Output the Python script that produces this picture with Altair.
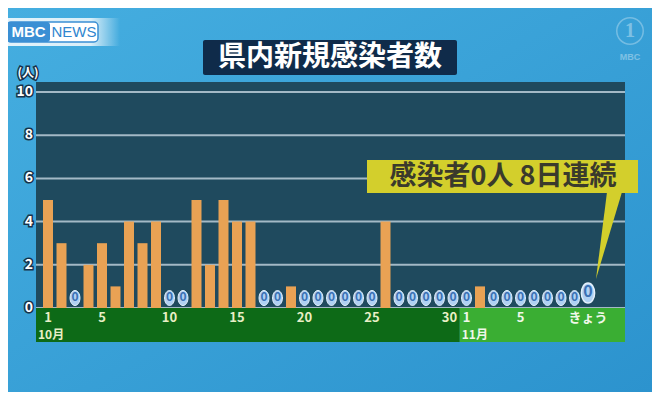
import altair as alt
import pandas as pd

# ---------------- data ----------------
oct_cases = [5, 3, 0, 2, 3, 1, 4, 3, 4, 0, 0, 5, 2, 5, 4, 4, 0, 0, 1,
             0, 0, 0, 0, 0, 0, 4, 0, 0, 0, 0, 0]
nov_cases = [0, 1, 0, 0, 0, 0, 0, 0, 0, 0]

tick_index = [1, 5, 10, 15, 20, 25, 30, 32, 36, 41]
tick_labels = ["1", "5", "10", "15", "20", "25", "30", "1", "5", "きょう"]
month_labels = ["10月", "11月"]
month_first_index = [1, 32]
month_last_index = [31, 41]
y_ticks = [0, 2, 4, 6, 8, 10]

title_text = "県内新規感染者数"
callout_text = "感染者0人 8日連続"
y_unit = "(人)"

FONT = "Noto Sans CJK JP"

cases = oct_cases + nov_cases
idx = list(range(1, len(cases) + 1))
df = pd.DataFrame({
    "idx": idx,
    "cases": cases,
    "month": ["10月"] * len(oct_cases) + ["11月"] * len(nov_cases),
})
df["today"] = df["idx"] == df["idx"].max()

# ---------------- scales ----------------
W, H = 589, 226
STEP = 13.5
x_dom = [1 - 12 / STEP, 1 + (W - 12) / STEP]
xs = alt.Scale(domain=x_dom, nice=False, zero=False, padding=0)
ys = alt.Scale(domain=[0, H / 21.6], nice=False, zero=True, padding=0)

one = pd.DataFrame({"a": [0]})

lo = [f - 0.5 for f in month_first_index]
lo[0] = x_dom[0]
hi = [l + 0.5 for l in month_last_index]
hi[-1] = x_dom[1]
df_m = pd.DataFrame({"month": month_labels, "lo": lo, "hi": hi})
df_t = pd.DataFrame({"idx": tick_index, "label": tick_labels})
df_y = pd.DataFrame({"t": y_ticks})

OCT_LAB = "#e8efc6"
NOV_LAB = "#f0f8ea"

# ---------------- background ----------------
bg = alt.Chart(one).mark_rect(
    fill=alt.LinearGradient(
        gradient="linear",
        stops=[alt.GradientStop(color="#45aee0", offset=0),
               alt.GradientStop(color="#2c93ce", offset=1)],
        x1=0, y1=0, x2=1, y2=1)
).encode(x=alt.value(-28), x2=alt.value(W + 27), y=alt.value(-74), y2=alt.value(H + 84))

plot_bg = alt.Chart(one).mark_rect(fill="#1f4a5e").encode(
    x=alt.value(0), x2=alt.value(W), y=alt.value(0), y2=alt.value(H))

grid = alt.Chart(df_y).mark_rule(color="#a3b9c6", strokeWidth=2).encode(
    y=alt.Y("t:Q", scale=ys, axis=None), x=alt.value(0), x2=alt.value(W))

bands = alt.Chart(df_m).mark_rect().encode(
    x=alt.X("lo:Q", scale=xs, axis=None), x2="hi:Q",
    y=alt.value(H), y2=alt.value(H + 34),
    color=alt.condition("datum.month == '10月'", alt.value("#0d6a17"), alt.value("#3aae33")))

bars = alt.Chart(df).transform_filter("datum.cases > 0").mark_bar(
    size=10, color="#e9a254").encode(
    x=alt.X("idx:Q", scale=xs, axis=None),
    y=alt.Y("cases:Q", scale=ys, axis=None))

ELL = "M0,-1 A0.66,1 0 1,1 0,1 A0.66,1 0 1,1 0,-1 Z"

zero_pts = alt.Chart(df).transform_filter("datum.cases == 0 && !datum.today").mark_point(
    shape=ELL, filled=True, size=225, fill="#b0d1f3", stroke="#e4f0fc",
    strokeWidth=1, opacity=1, yOffset=-10).encode(
    x=alt.X("idx:Q", scale=xs, axis=None), y=alt.Y("cases:Q", scale=ys, axis=None))
zero_txt = alt.Chart(df).transform_filter("datum.cases == 0 && !datum.today").mark_text(
    font=FONT, fontSize=12, fontWeight="bold", color="#3a70b4", baseline="middle",
    yOffset=-11).encode(
    x=alt.X("idx:Q", scale=xs, axis=None), y=alt.Y("cases:Q", scale=ys, axis=None),
    text=alt.Text("cases:Q"))

today_pts = alt.Chart(df).transform_filter("datum.today").mark_point(
    shape=ELL, filled=True, size=400, fill="#b0d1f3", stroke="#e4f0fc",
    strokeWidth=1.5, opacity=1, yOffset=-15).encode(
    x=alt.X("idx:Q", scale=xs, axis=None), y=alt.Y("cases:Q", scale=ys, axis=None))
today_txt = alt.Chart(df).transform_filter("datum.today").mark_text(
    font=FONT, fontSize=16, fontWeight="bold", color="#3a70b4", baseline="middle",
    yOffset=-16).encode(
    x=alt.X("idx:Q", scale=xs, axis=None), y=alt.Y("cases:Q", scale=ys, axis=None),
    text=alt.Text("cases:Q"))

lab_color = alt.condition("datum.idx <= 31", alt.value(OCT_LAB), alt.value(NOV_LAB))
xlab = alt.Chart(df_t).transform_filter("datum.label != '30'").mark_text(
    font=FONT, fontSize=13, fontWeight="bold", baseline="middle").encode(
    x=alt.X("idx:Q", scale=xs, axis=None), y=alt.value(H + 10),
    text="label:N", color=lab_color)
xlab30 = alt.Chart(df_t).transform_filter("datum.label == '30'").mark_text(
    font=FONT, fontSize=13, fontWeight="bold", baseline="middle", dx=10).encode(
    x=alt.X("idx:Q", scale=xs, axis=None), y=alt.value(H + 10),
    text="label:N", color=lab_color)

mlab = alt.Chart(df_m).mark_text(
    font=FONT, fontSize=12, fontWeight="bold", baseline="middle", align="left", dx=2).encode(
    x=alt.X("lo:Q", scale=xs, axis=None), y=alt.value(H + 27), text="month:N",
    color=alt.condition("datum.month == '10月'", alt.value(OCT_LAB), alt.value(NOV_LAB)))

ylab_o = alt.Chart(df_y).mark_text(
    font=FONT, fontSize=14, fontWeight="bold", align="right", baseline="middle",
    color="#17324a", stroke="#17324a", strokeWidth=3).encode(
    y=alt.Y("t:Q", scale=ys, axis=None), x=alt.value(-3), text="t:Q")
ylab = alt.Chart(df_y).mark_text(
    font=FONT, fontSize=14, fontWeight="bold", align="right", baseline="middle",
    color="white").encode(
    y=alt.Y("t:Q", scale=ys, axis=None), x=alt.value(-3), text="t:Q")

unit_o = alt.Chart(one).mark_text(
    text=y_unit, font=FONT, fontSize=12, fontWeight="bold", color="#17324a",
    stroke="#17324a", strokeWidth=3, baseline="middle").encode(x=alt.value(-8), y=alt.value(-9))
unit = alt.Chart(one).mark_text(
    text=y_unit, font=FONT, fontSize=12, fontWeight="bold", color="white",
    baseline="middle").encode(x=alt.value(-8), y=alt.value(-9))

# ---------------- title ----------------
title_box = alt.Chart(one).mark_rect(fill="#0f2b4a", cornerRadius=2).encode(
    x=alt.value(167), x2=alt.value(421), y=alt.value(-42), y2=alt.value(-7))
title = alt.Chart(one).mark_text(
    text=title_text, font=FONT, fontSize=28, fontWeight="bold", color="white",
    baseline="middle").encode(x=alt.value(294), y=alt.value(-24))

# ---------------- logos ----------------
logo_bg = alt.Chart(one).mark_rect(
    fill=alt.LinearGradient(
        gradient="linear",
        stops=[alt.GradientStop(color="rgba(255,255,255,0.85)", offset=0),
               alt.GradientStop(color="rgba(255,255,255,0.8)", offset=0.75),
               alt.GradientStop(color="rgba(255,255,255,0)", offset=1)],
        x1=0, y1=0, x2=1, y2=0)
).encode(x=alt.value(-33), x2=alt.value(84), y=alt.value(-64), y2=alt.value(-36))
logo_outline = alt.Chart(one).mark_rect(
    fill="white", stroke="#3a8fd4", strokeWidth=1.5, cornerRadius=4).encode(
    x=alt.value(-29), x2=alt.value(62), y=alt.value(-60), y2=alt.value(-40))
logo_blue = alt.Chart(one).mark_rect(fill="#3a8fd4", cornerRadius=3).encode(
    x=alt.value(-29), x2=alt.value(14), y=alt.value(-60), y2=alt.value(-40))
logo_mbc = alt.Chart(one).mark_text(
    text="MBC", font="Liberation Sans", fontSize=15, fontWeight="bold", color="white",
    baseline="middle").encode(x=alt.value(-7.5), y=alt.value(-50))
logo_news = alt.Chart(one).mark_text(
    text="NEWS", font="Liberation Sans", fontSize=15, color="#2f86cf",
    baseline="middle").encode(x=alt.value(38), y=alt.value(-50))

ch_circle = alt.Chart(one).mark_point(
    shape="circle", size=700, stroke="white", strokeWidth=1.5, opacity=0.3,
    filled=False).encode(x=alt.value(594), y=alt.value(-51))
ch_one = alt.Chart(one).mark_text(
    text="1", font="Liberation Serif", fontSize=20, fontWeight="bold", color="white",
    opacity=0.35, baseline="middle").encode(x=alt.value(594), y=alt.value(-51))
ch_mbc = alt.Chart(one).mark_text(
    text="MBC", font="Liberation Sans", fontSize=9, fontWeight="bold", color="white",
    opacity=0.35, baseline="middle").encode(x=alt.value(594), y=alt.value(-25))

# ---------------- callout ----------------
YEL = "#d3cf2c"
pointer = alt.Chart(one).mark_point(
    shape="M571,110 L586,110 L560,197 Z", size=4, filled=True, fill=YEL,
    opacity=1, strokeWidth=0).encode(x=alt.value(0), y=alt.value(0))
callout_box = alt.Chart(one).mark_rect(fill=YEL).encode(
    x=alt.value(331), x2=alt.value(602), y=alt.value(78), y2=alt.value(111))
callout = alt.Chart(one).mark_text(
    text=callout_text, font=FONT, fontSize=27, fontWeight="bold", color="#3a3a2c",
    baseline="middle").encode(x=alt.value(467), y=alt.value(95))

chart = alt.layer(
    bg, plot_bg, grid, bands, bars,
    zero_pts, zero_txt, today_pts, today_txt,
    xlab, xlab30, mlab, ylab_o, ylab, unit_o, unit,
    title_box, title,
    logo_bg, logo_outline, logo_blue, logo_mbc, logo_news,
    ch_circle, ch_one, ch_mbc,
    pointer, callout_box, callout,
).properties(
    width=W, height=H,
    padding={"left": 28, "top": 74, "right": 27, "bottom": 84},
    autosize=alt.AutoSizeParams(type="none"),
).configure_view(stroke=None).configure(background="#3aa3d9")

chart.save("out.html", embed_options={"renderer": "svg", "actions": False})
